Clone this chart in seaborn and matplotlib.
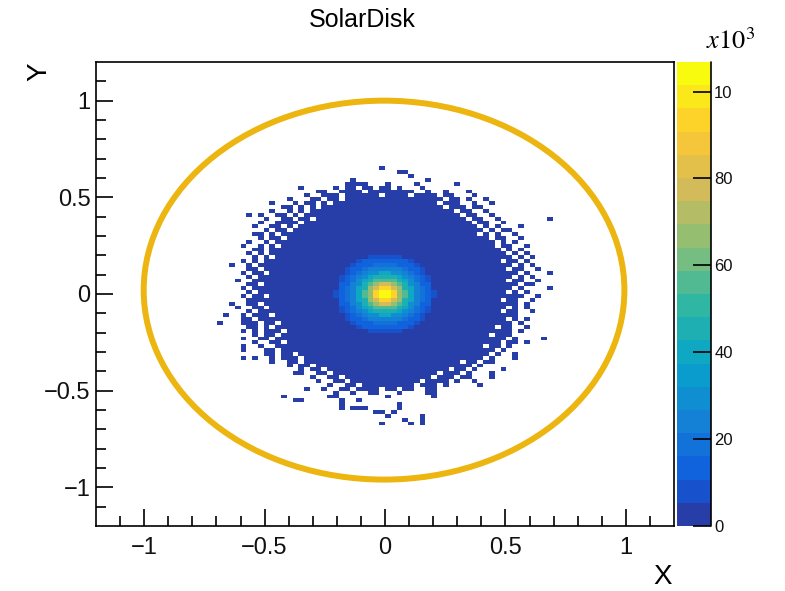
import numpy as np
import matplotlib
matplotlib.use("Agg")
import matplotlib.pyplot as plt
from matplotlib.colors import LinearSegmentedColormap, ListedColormap
from matplotlib.patches import Ellipse
import seaborn as sns

# TH2 binning: 100 x 120 bins over [-1.2, 1.2]
x_edges = np.linspace(-1.2, 1.2, 101)
y_edges = np.linspace(-1.2, 1.2, 121)

# bin content vs distance from the centre (x10^3)
ring_r = [0.025, 0.04, 0.055, 0.07, 0.085, 0.10, 0.115, 0.13, 0.145,
          0.16, 0.175, 0.19, 0.205, 0.30, 0.50, 1.0]
ring_k = [104, 92, 80, 68, 57, 47, 39, 32, 26, 20, 15, 11, 7.5, 3.5, 2.0, 1.0]

# filled bins, one row per y bin from y=0.64..0.66 down to y=-0.68..-0.66,
# 58 columns starting at x=-0.696
footprint = [
    "............................#.............................",
    "...............................##.........................",
    ".................................#........................",
    ".......................#............#.....................",
    "......................####...#....#......#................",
    "..............#.....#.##.##.##.#...#......................",
    ".................##..####.########..#..#...#..............",
    "...............#..###.######.####.####.##...#.............",
    "............#...##.##.#################.##.#..#...........",
    ".........#...#.##.#.##################.###..#..#..........",
    "...........##.#.#.#####################.###.##............",
    ".........#..#.#.#########################.##..#...........",
    ".....#.#..##.#.###########################.##..#..........",
    "........#..##.##.##########################.##..#........#",
    ".......#..####.#############################.##..#........",
    "......#..##.#.###############################.#.#...#.....",
    "........#.##.#################################.#.##.......",
    "......##.#.##################################.#.#..#......",
    ".......#.##.###################################.##..#.....",
    ".....#..#.######################################.#.#......",
    "....#..#.#.#####################################.##..#....",
    "......##.########################################.#.#.....",
    ".....#.#.#########################################.#.#....",
    "......#.#.#########################################.#.#...",
    "....#.#.#########################################.##.#....",
    "..#..#.############################################.#.#...",
    ".....##.##########################################.##..#..",
    "....#.##.###########################################.#...#",
    ".....#.############################################.#.#...",
    "...#..############################################.##..#..",
    ".....##.############################################.##...",
    "....#.#############################################.#....#",
    ".....#.###########################################.#.#....",
    "....#.##.############################################..#..",
    ".....############################################.##..#...",
    "..#..##.############################################.#....",
    "...#..##.#########################################.#.#....",
    ".....#.##########################################.##..#...",
    ".#..#.###.##########################################......",
    "....##.###########################################.#.#....",
    "#...###.##.########################################.#.....",
    ".....##.#.######################################.##..#....",
    "....#.#.###.#######################################.#.....",
    "......#.##.####################################.###.......",
    "....#..##.########################################.#....#.",
    "......#..##.#####################################.##.#....",
    "....#..#..####################################.##.#.......",
    "....#...##.#####################################.#........",
    "........##.##.#################################.#..#......",
    "....#.#..#.###.###############################.#...#......",
    ".........#..##.###########################.##.##..........",
    "............#.##.###########################.#............",
    "..............#.##.#####################.##.#....#........",
    ".............##..##.##################.###.#...#..........",
    "................#..##.###############.###.##...#..........",
    ".................#..##.############.####.#..#.............",
    "...................#..##.#########.###.#.....#............",
    "...............#..#..##.####.##.##..##....................",
    "....................#..#..##...#....##....................",
    "...........#.......##........#.......#....................",
    ".............##......#..#.................................",
    ".....................#.........#..........................",
    ".....................#.###.....#..........................",
    "...........................##.#...........................",
    ".............................#.....#......................",
    "................................#..#......................",
    "............................#....#.#......................",
]

xs, ys, ws = [], [], []
for r, row in enumerate(footprint):
    yc = (32 - r + 0.5) * 0.02
    for c, ch in enumerate(row.ljust(58, ".")[:58]):
        if ch == "#":
            xc = (c - 28.5) * 0.024
            xs.append(xc)
            ys.append(yc)
            ws.append(ring_k[np.searchsorted(ring_r, np.hypot(xc, yc))])

# ROOT kBird palette, 20 contour levels
bird = LinearSegmentedColormap.from_list("bird", list(zip(
    [0.0, 0.125, 0.25, 0.375, 0.5, 0.625, 0.75, 0.875, 1.0],
    list(zip([0.2082, 0.0592, 0.0780, 0.0232, 0.1802, 0.5301, 0.8186, 0.9956, 0.9764],
             [0.1664, 0.3599, 0.5041, 0.6419, 0.7178, 0.7492, 0.7328, 0.7862, 0.9832],
             [0.5293, 0.8684, 0.8385, 0.7914, 0.6425, 0.4662, 0.3499, 0.1968, 0.0539])))))
bird20 = ListedColormap([bird((k + 1) / 20) for k in range(20)])

sns.set_style("white")
plt.rcParams["font.family"] = ["Liberation Sans", "DejaVu Sans"]
plt.rcParams["mathtext.fontset"] = "stix"
plt.rcParams["text.color"] = "black"
plt.rcParams["axes.axisbelow"] = False

fig = plt.figure(figsize=(7.85, 5.91), dpi=100)
ax = fig.add_axes([0.1223, 0.11, 0.7363, 0.7851])
cax = fig.add_axes([0.8624, 0.11, 0.0438, 0.7851])

sns.histplot(x=xs, y=ys, weights=ws, bins=[x_edges, y_edges], cmap=bird20,
             vmax=106.8, cbar=True, cbar_ax=cax, ax=ax)

ax.add_patch(Ellipse((-0.004, 0.02), 1.996, 1.96, fill=False,
                     edgecolor="#ecb510", lw=4.3))

ax.set_xlim(-1.2, 1.2)
ax.set_ylim(-1.2, 1.2)
major = [-1, -0.5, 0, 0.5, 1]
major_labels = ["\u22121", "\u22120.5", "0", "0.5", "1"]
ax.set_xticks(major, major_labels)
ax.set_yticks(major, major_labels)
ax.set_xticks(np.arange(-11, 12) / 10, minor=True)
ax.set_yticks(np.arange(-11, 12) / 10, minor=True)
ax.tick_params(which="both", direction="in", bottom=True, left=True,
               top=False, right=False, width=1.2, color="black",
               labelsize=17, labelcolor="#111111")
ax.tick_params(which="major", length=12)
ax.tick_params(which="minor", length=7)
ax.tick_params(axis="x", pad=8)
ax.tick_params(axis="y", pad=4)
for s in ax.spines.values():
    s.set_visible(True)
    s.set_color("black")
    s.set_linewidth(1.2)

cbar = ax.collections[0].colorbar
cbar.outline.set_visible(False)
cbar.set_ticks([0, 20, 40, 60, 80, 100], labels=["0", "20", "40", "60", "80", "10"])
cax.set_axisbelow(False)
cax.tick_params(direction="in", right=True, left=False, length=13, width=1.2,
                color="black", labelsize=12, pad=2, labelcolor="#111111")
cax.axvline(1.0, color="black", lw=1.2, clip_on=False)

fig.text(0.461, 0.966, "SolarDisk", ha="center", va="center", fontsize=18)
fig.text(0.856, 0.024, "X", ha="right", va="center", fontsize=20)
fig.text(0.0497, 0.895, "Y", rotation=90, ha="center", va="top", fontsize=20)
fig.text(0.899, 0.931, r"$x10^3$", ha="left", va="center", fontsize=19)

fig.savefig("out.png", dpi=100)
